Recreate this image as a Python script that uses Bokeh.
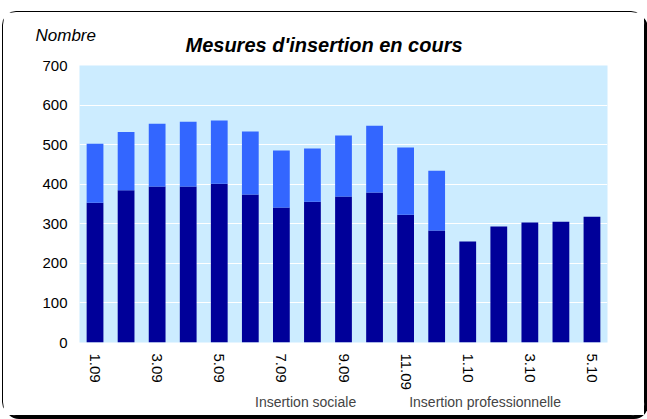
from bokeh.plotting import figure
from bokeh.models import ColumnDataSource, Legend, LegendItem, Title, FixedTicker
from bokeh.layouts import column
from bokeh.embed import file_html
from bokeh.resources import INLINE

# ---- data ----
months = ["1.09", "2.09", "3.09", "4.09", "5.09", "6.09", "7.09", "8.09", "9.09",
          "10.09", "11.09", "12.09", "1.10", "2.10", "3.10", "4.10", "5.10"]
insertion_sociale = [353, 385, 394, 394, 401, 374, 341, 356, 369, 379, 323, 283,
                     255, 293, 303, 305, 318]
insertion_professionnelle = [149, 147, 159, 164, 160, 159, 144, 134, 154, 169, 170, 151,
                             0, 0, 0, 0, 0]
shown_tick_labels = ["1.09", "3.09", "5.09", "7.09", "9.09", "11.09", "1.10", "3.10", "5.10"]
y_ticks = [0, 100, 200, 300, 400, 500, 600, 700]

title_text = "Mesures d'insertion en cours"
unit_text = "Nombre"
series_names = ["Insertion sociale", "Insertion professionnelle"]

DARK = "#000099"
LIGHT = "#3366FF"
BG = "#CCECFF"
FONT = "Liberation Sans"

idx = list(range(len(months)))
source = ColumnDataSource(dict(idx=idx, month=months, sociale=insertion_sociale,
                               pro=insertion_professionnelle))

# ---- main chart ----
p = figure(x_range=(-0.5, len(months) - 0.5), y_range=(0, 700),
           width=641, height=381, output_backend="svg", toolbar_location=None,
           min_border_left=76, min_border_right=37, min_border_top=53, min_border_bottom=51)

p.background_fill_color = BG
p.border_fill_color = "white"
p.outline_line_color = None

rs = p.vbar_stack(["sociale", "pro"], x="idx", width=0.54, color=[DARK, LIGHT],
                  line_color=None, source=source)

# unit text (outermost title panel, pulled down next to the main title)
p.title.text = unit_text
p.title.align = "left"
p.title.offset = -44
p.title.standoff = -46
p.title.text_font = FONT
p.title.text_font_style = "italic"
p.title.text_font_size = "17px"
p.title.text_color = "black"

# chart title (innermost title panel)
main_title = Title(text=title_text, align="left", offset=106, standoff=20,
                   text_font=FONT, text_font_style="bold italic", text_font_size="20px",
                   text_color="black")
p.add_layout(main_title, "above")

# axes
p.yaxis.ticker = y_ticks
p.yaxis.major_label_text_font = FONT
p.yaxis.major_label_text_font_size = "15px"
p.yaxis.major_label_text_color = "black"
p.yaxis.axis_line_color = None
p.yaxis.major_tick_line_color = None
p.yaxis.minor_tick_line_color = None
p.yaxis.major_tick_out = 0
p.yaxis.major_tick_in = 0
p.yaxis.major_label_standoff = 12

shown_idx = [i for i, m in enumerate(months) if m in shown_tick_labels]
p.xaxis.ticker = FixedTicker(ticks=shown_idx)
p.xaxis.major_label_overrides = {i: months[i] for i in shown_idx}
p.xaxis.major_label_orientation = "vertical"
p.xaxis.major_label_text_font = FONT
p.xaxis.major_label_text_font_size = "15px"
p.xaxis.major_label_text_color = "black"
p.xaxis.axis_line_color = None
p.xaxis.major_tick_line_color = None
p.xaxis.minor_tick_line_color = None
p.xaxis.major_tick_out = 0
p.xaxis.major_tick_in = 0
p.xaxis.major_label_standoff = 11

p.xgrid.grid_line_color = None
p.ygrid.grid_line_color = "white"
p.ygrid.grid_line_width = 1

# ---- legend strip ----
lf = figure(width=641, height=22, output_backend="svg", toolbar_location=None,
            x_axis_type=None, y_axis_type=None, min_border=0)
lf.outline_line_color = None
lf.background_fill_color = "white"
lf.border_fill_color = "white"
key_sociale = lf.vbar(x=[], top=[], width=0.5, color=DARK, line_color=None)
key_pro = lf.vbar(x=[], top=[], width=0.5, color=LIGHT, line_color=None)

legend = Legend(items=[LegendItem(label=series_names[0], renderers=[key_sociale]),
                       LegendItem(label=series_names[1], renderers=[key_pro])],
                location=(163, 5), orientation="horizontal",
                padding=0, margin=0, spacing=40, label_standoff=4,
                glyph_width=9, glyph_height=9, label_height=16,
                label_text_font=FONT, label_text_font_size="14px",
                border_line_color=None, background_fill_alpha=0)
lf.add_layout(legend, "center")

layout = column(p, lf, spacing=0)
layout.styles = {"margin-left": "2px", "margin-top": "11px",
                 "border": "1px solid black", "border-radius": "14px",
                 "box-shadow": "3px 3px 0px black", "background-color": "white"}

open("out.html", "w").write(file_html(layout, INLINE))
